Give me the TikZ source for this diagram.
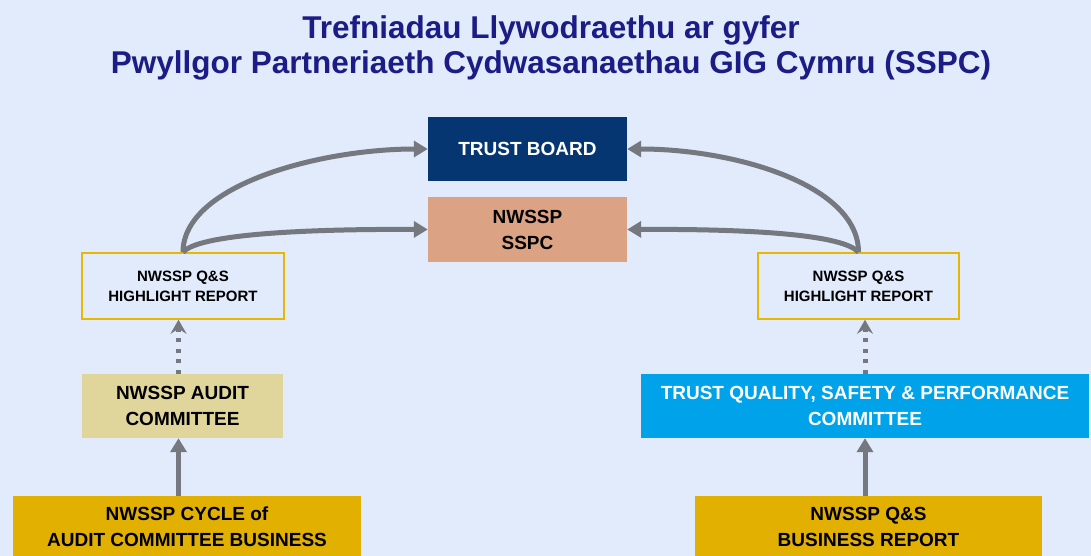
\documentclass[tikz,border=0pt]{standalone}
\usepackage{fontspec}
\setmainfont{Liberation Sans}
\usetikzlibrary{arrows.meta}
\definecolor{bgc}{HTML}{E1EBFB}
\definecolor{titlec}{HTML}{1C1C86}
\definecolor{navy}{HTML}{053672}
\definecolor{salmon}{HTML}{DBA383}
\definecolor{khaki}{HTML}{E0D59A}
\definecolor{skyc}{HTML}{00A3EA}
\definecolor{goldc}{HTML}{E1B000}
\definecolor{hlborder}{HTML}{E6B800}
\definecolor{arrowc}{HTML}{75797F}
\tikzset{
  box/.style={inner sep=0pt, align=center, font=\bfseries\fontsize{19}{26}\selectfont},
  hlbox/.style={box, draw=hlborder, line width=1.5pt, fill=bgc, font=\bfseries\fontsize{15}{20}\selectfont},
  conn/.style={draw=arrowc, line width=5pt, -{Triangle[width=16pt,length=14pt]}},
  dotconn/.style={draw=arrowc, line width=5pt, dash pattern=on 4pt off 6.5pt, -{Stealth[width=16pt,length=14pt,inset=5pt]}}
}
\begin{document}
\begin{tikzpicture}[x=1pt,y=-1pt]
\fill[bgc] (0,0) rectangle (1091,556);
\useasboundingbox (0,0) rectangle (1091,556);
\node[font=\bfseries\fontsize{31.5}{35}\selectfont, text=titlec, align=center, inner sep=0pt] (title) at (551,48)
  {Trefniadau Llywodraethu ar gyfer\\Pwyllgor Partneriaeth Cydwasanaethau GIG Cymru (SSPC)};
% boxes
\node[box, fill=navy, text=white, minimum width=199pt, minimum height=64pt] (tb) at (527.5,149) {TRUST BOARD};
\node[box, fill=salmon, text=black, minimum width=199pt, minimum height=65pt] (sspc) at (527.5,229.5) {NWSSP\\SSPC};
\node[hlbox, minimum width=202pt, minimum height=66pt] (hl1) at (183,286) {NWSSP Q\&S\\HIGHLIGHT REPORT};
\node[hlbox, minimum width=201pt, minimum height=66pt] (hl2) at (858.5,286) {NWSSP Q\&S\\HIGHLIGHT REPORT};
\node[box, fill=khaki, text=black, minimum width=201pt, minimum height=64pt] (audit) at (182.5,406) {NWSSP AUDIT\\COMMITTEE};
\node[box, fill=skyc, text=white, minimum width=448pt, minimum height=64pt] (tq) at (865,406) {TRUST QUALITY, SAFETY \& PERFORMANCE\\COMMITTEE};
\node[box, fill=goldc, text=black, minimum width=348pt, minimum height=62pt, anchor=north] (cycle) at (187,496) {NWSSP CYCLE of\\AUDIT COMMITTEE BUSINESS};
\node[box, fill=goldc, text=black, minimum width=347pt, minimum height=62pt, anchor=north] (biz) at (868.5,496) {NWSSP Q\&S\\BUSINESS REPORT};
% curved arrows
\draw[conn] (hl1.north) .. controls (183,185) and (320,149) .. (tb.west);
\draw[conn] (hl1.north) .. controls (200,232) and (330,229) .. (sspc.west);
\draw[conn] (hl2.north) .. controls (858.5,185) and (735,149) .. (tb.east);
\draw[conn] (hl2.north) .. controls (841,232) and (725,229) .. (sspc.east);
% dotted arrows
\coordinate (a1) at ([xshift=-4pt]audit.north);
\draw[dotconn] (a1) -- (a1 |- hl1.south);
\draw[dotconn] (tq.north) -- (tq.north |- hl2.south);
% solid vertical arrows
\coordinate (c1) at (cycle.north -| a1);
\draw[conn] (c1) -- (c1 |- audit.south);
\coordinate (b1) at (biz.north -| tq.north);
\draw[conn] (b1) -- (b1 |- tq.south);
\end{tikzpicture}
\end{document}
